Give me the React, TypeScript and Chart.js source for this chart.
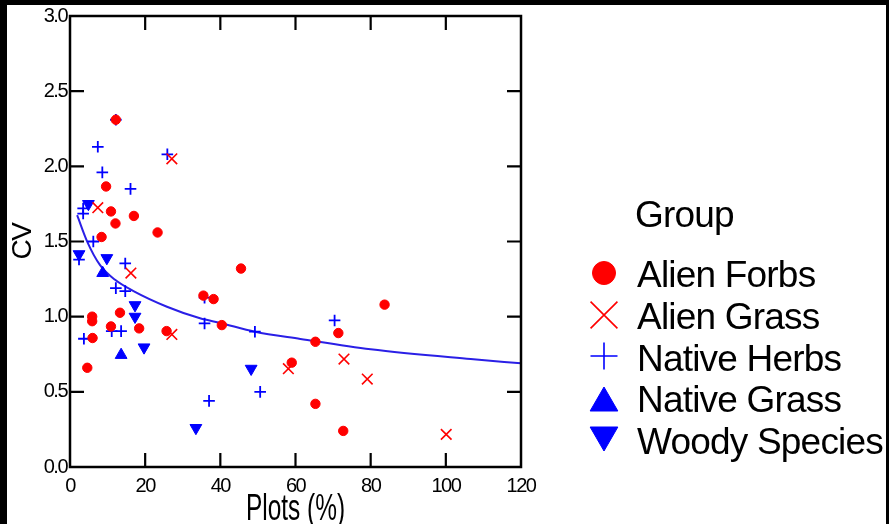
import React, { useEffect, useRef } from 'react';
import { Chart, registerables } from 'chart.js';
import { drawPoint } from 'chart.js/helpers';

Chart.register(...registerables);

// ---- data ----
const groupNames = ['Alien Forbs', 'Alien Grass', 'Native Herbs', 'Native Grass', 'Woody Species'];

const alienForbs: [number, number][] = [
  [12.2, 2.31], [9.6, 1.866], [10.9, 1.70], [17.0, 1.67], [12.1, 1.62], [23.3, 1.56],
  [8.4, 1.53], [45.5, 1.32], [35.5, 1.14], [38.2, 1.117], [40.4, 0.944], [5.9, 1.0],
  [5.9, 0.97], [13.3, 1.026], [10.9, 0.935], [18.4, 0.922], [25.7, 0.904], [6.0, 0.858],
  [4.6, 0.66], [65.3, 0.833], [71.4, 0.891], [83.7, 1.08], [59.0, 0.694], [65.3, 0.42],
  [72.7, 0.24],
];
const alienGrass: [number, number][] = [
  [27.1, 2.05], [7.4, 1.725], [16.2, 1.29], [27.1, 0.882], [58.1, 0.654], [72.9, 0.718],
  [79.1, 0.585], [100.1, 0.217],
];
const nativeHerbs: [number, number][] = [
  [12.2, 2.31], [7.4, 2.13], [8.6, 1.96], [25.9, 2.08], [16.1, 1.85], [3.5, 1.72],
  [3.5, 1.686], [6.2, 1.5], [2.4, 1.38], [14.7, 1.354], [12.2, 1.19], [14.7, 1.17],
  [35.8, 1.126], [35.8, 0.955], [11.1, 0.904], [13.6, 0.904], [3.7, 0.853], [37.0, 0.44],
  [49.2, 0.9], [70.4, 0.975], [50.6, 0.5],
];
const nativeGrass: [number, number][] = [[8.7, 1.29], [13.6, 0.745]];
const woodySpecies: [number, number][] = [
  [4.9, 1.75], [2.4, 1.416], [9.8, 1.39], [17.3, 1.077], [17.3, 1.0], [19.7, 0.796],
  [33.5, 0.26], [48.2, 0.654],
];

// fitted curve
const fitX = [1.9, 4.6, 8.0, 12.0, 16.9, 25.8, 34.6, 40.0, 49.2, 61.3, 80.0, 106.6, 120.0];
const fitY = [1.675, 1.498, 1.343, 1.245, 1.17, 1.066, 0.989, 0.958, 0.9, 0.852, 0.783, 0.718, 0.69];

const xTicks = [0, 20, 40, 60, 80, 100, 120];
const yTickLabels = ['0.0', '0.5', '1.0', '1.5', '2.0', '2.5', '3.0'];
const xTitle = 'Plots (%)';
const yTitle = 'CV';
const legendTitle = 'Group';

const RED = '#ff0000';
const BLUE = '#0000ff';
const SANS = '"Liberation Sans", Arial, sans-serif';

const toPts = (a: [number, number][]) => a.map(([x, y]) => ({ x, y }));

const framePlugin = {
  id: 'frame',
  beforeDraw(chart: any) {
    const ctx = chart.ctx;
    ctx.save();
    ctx.fillStyle = '#ffffff';
    ctx.fillRect(0, 0, chart.width, chart.height);
    ctx.restore();
    // condensed look of the axis numbers
    (ctx as any).letterSpacing = '-1.5px';
  },
  afterDraw(chart: any) {
    const ctx = chart.ctx;
    (ctx as any).letterSpacing = '0px';
    const { left, right, top, bottom } = chart.chartArea;
    const xs = chart.scales.x;
    const ys = chart.scales.y;
    const TL = 14;
    ctx.save();
    ctx.strokeStyle = '#000';
    ctx.lineWidth = 2.5;
    ctx.lineCap = 'butt';
    ctx.strokeRect(left, top, right - left, bottom - top);
    ctx.lineWidth = 2.2;
    ctx.beginPath();
    xs.ticks.forEach((t: any) => {
      if (t.value <= xs.min || t.value >= xs.max) return;
      const px = xs.getPixelForValue(t.value);
      ctx.moveTo(px, bottom);
      ctx.lineTo(px, bottom - TL);
      ctx.moveTo(px, top);
      ctx.lineTo(px, top + TL);
    });
    ys.ticks.forEach((t: any) => {
      if (t.value <= ys.min || t.value >= ys.max) return;
      const py = ys.getPixelForValue(t.value);
      ctx.moveTo(left, py);
      ctx.lineTo(left + TL, py);
      ctx.moveTo(right, py);
      ctx.lineTo(right - TL, py);
    });
    ctx.stroke();

    // x axis title (condensed like the reference)
    ctx.save();
    ctx.fillStyle = '#000';
    ctx.font = '37px ' + SANS;
    ctx.textAlign = 'center';
    ctx.textBaseline = 'alphabetic';
    ctx.translate((left + right) / 2, 520);
    ctx.scale(0.66, 1);
    ctx.fillText(xTitle, 0, 0);
    ctx.restore();

    // legend
    const lx = 604;
    const tx = 637;
    ctx.fillStyle = '#000';
    ctx.font = '37px ' + SANS;
    (ctx as any).letterSpacing = '-0.8px';
    ctx.textBaseline = 'alphabetic';
    ctx.textAlign = 'left';
    ctx.fillText(legendTitle, 635, 227);
    const legendRadius = [11.5, 19, 13.5, 16, 16];
    const markerY = [273, 315, 356, 403, 435];
    chart.data.datasets.slice(0, 5).forEach((ds: any, i: number) => {
      const base = 287 + i * 41.8;
      ctx.fillStyle = ds.backgroundColor;
      ctx.strokeStyle = ds.borderColor;
      ctx.lineWidth = ds.pointStyle === 'circle' || ds.pointStyle === 'triangle' ? 1 : 1.6;
      drawPoint(ctx, {
        pointStyle: ds.pointStyle,
        rotation: ds.pointRotation || 0,
        radius: legendRadius[i],
        borderWidth: ctx.lineWidth,
      } as any, lx, markerY[i]);
      ctx.fillStyle = '#000';
      ctx.fillText(ds.label, tx, base);
    });
    (ctx as any).letterSpacing = '0px';

    // black frame of the picture
    ctx.fillStyle = '#000';
    ctx.fillRect(0, 0, chart.width, 5);
    ctx.fillRect(0, 0, 7, chart.height);
    ctx.fillRect(886, 0, chart.width - 886, chart.height);
    ctx.restore();
  },
};

export default function App() {
  const ref = useRef<HTMLCanvasElement | null>(null);
  useEffect(() => {
    if (!ref.current) return;
    const pointDs = (label: string, data: [number, number][], style: string, color: string, radius: number, bw: number, fill: boolean, rotation = 0) => ({
      label,
      data: toPts(data),
      pointStyle: style,
      pointRotation: rotation,
      pointRadius: radius,
      pointBorderWidth: bw,
      borderColor: color,
      backgroundColor: fill ? color : 'rgba(0,0,0,0)',
      showLine: false,
    });
    const chart = new Chart(ref.current, {
      type: 'scatter',
      data: {
        datasets: [
          pointDs(groupNames[0], alienForbs, 'circle', RED, 4.7, 1, true),
          pointDs(groupNames[1], alienGrass, 'crossRot', RED, 7.5, 1.6, false),
          pointDs(groupNames[2], nativeHerbs, 'cross', BLUE, 5.8, 1.8, false),
          pointDs(groupNames[3], nativeGrass, 'triangle', BLUE, 6.8, 1, true),
          pointDs(groupNames[4], woodySpecies, 'triangle', BLUE, 6.8, 1, true, 180),
          {
            label: 'Fit',
            data: fitX.map((x, i) => ({ x, y: fitY[i] })),
            showLine: true,
            pointRadius: 0,
            borderColor: '#2a1fe6',
            backgroundColor: '#2a1fe6',
            borderWidth: 2,
            cubicInterpolationMode: 'monotone',
          } as any,
        ],
      },
      options: {
        animation: false,
        responsive: false,
        devicePixelRatio: 1,
        events: [],
        layout: { padding: { left: 6, top: 16, right: 368, bottom: 0 } },
        plugins: { legend: { display: false }, tooltip: { enabled: false }, title: { display: false } },
        scales: {
          x: {
            type: 'linear',
            min: 0,
            max: 120,
            afterBuildTicks: (s: any) => { s.ticks = xTicks.map((v) => ({ value: v })); },
            afterFit: (s: any) => { s.height = 57; },
            grid: { display: false, drawTicks: false },
            border: { display: false },
            ticks: { color: '#000', padding: 7, font: { family: SANS, size: 20 }, maxRotation: 0 },
            title: { display: false, text: xTitle },
          },
          y: {
            type: 'linear',
            min: 0,
            max: 3,
            ticks: {
              stepSize: 0.5,
              color: '#000',
              padding: 3,
              font: { family: SANS, size: 20 },
              callback: (_v: any, i: number) => yTickLabels[i],
            },
            afterFit: (s: any) => { s.width = 64; },
            grid: { display: false, drawTicks: false },
            border: { display: false },
            title: { display: true, text: yTitle, color: '#000', font: { family: SANS, size: 28, lineHeight: 1.2 }, padding: 0 },
          },
        },
      },
      plugins: [framePlugin],
    } as any);
    return () => chart.destroy();
  }, []);
  return (
    <div style={{ position: 'fixed', left: 0, top: 0, width: 889, height: 524 }}>
      <canvas ref={ref} width={889} height={524} style={{ display: 'block' }} />
    </div>
  );
}
